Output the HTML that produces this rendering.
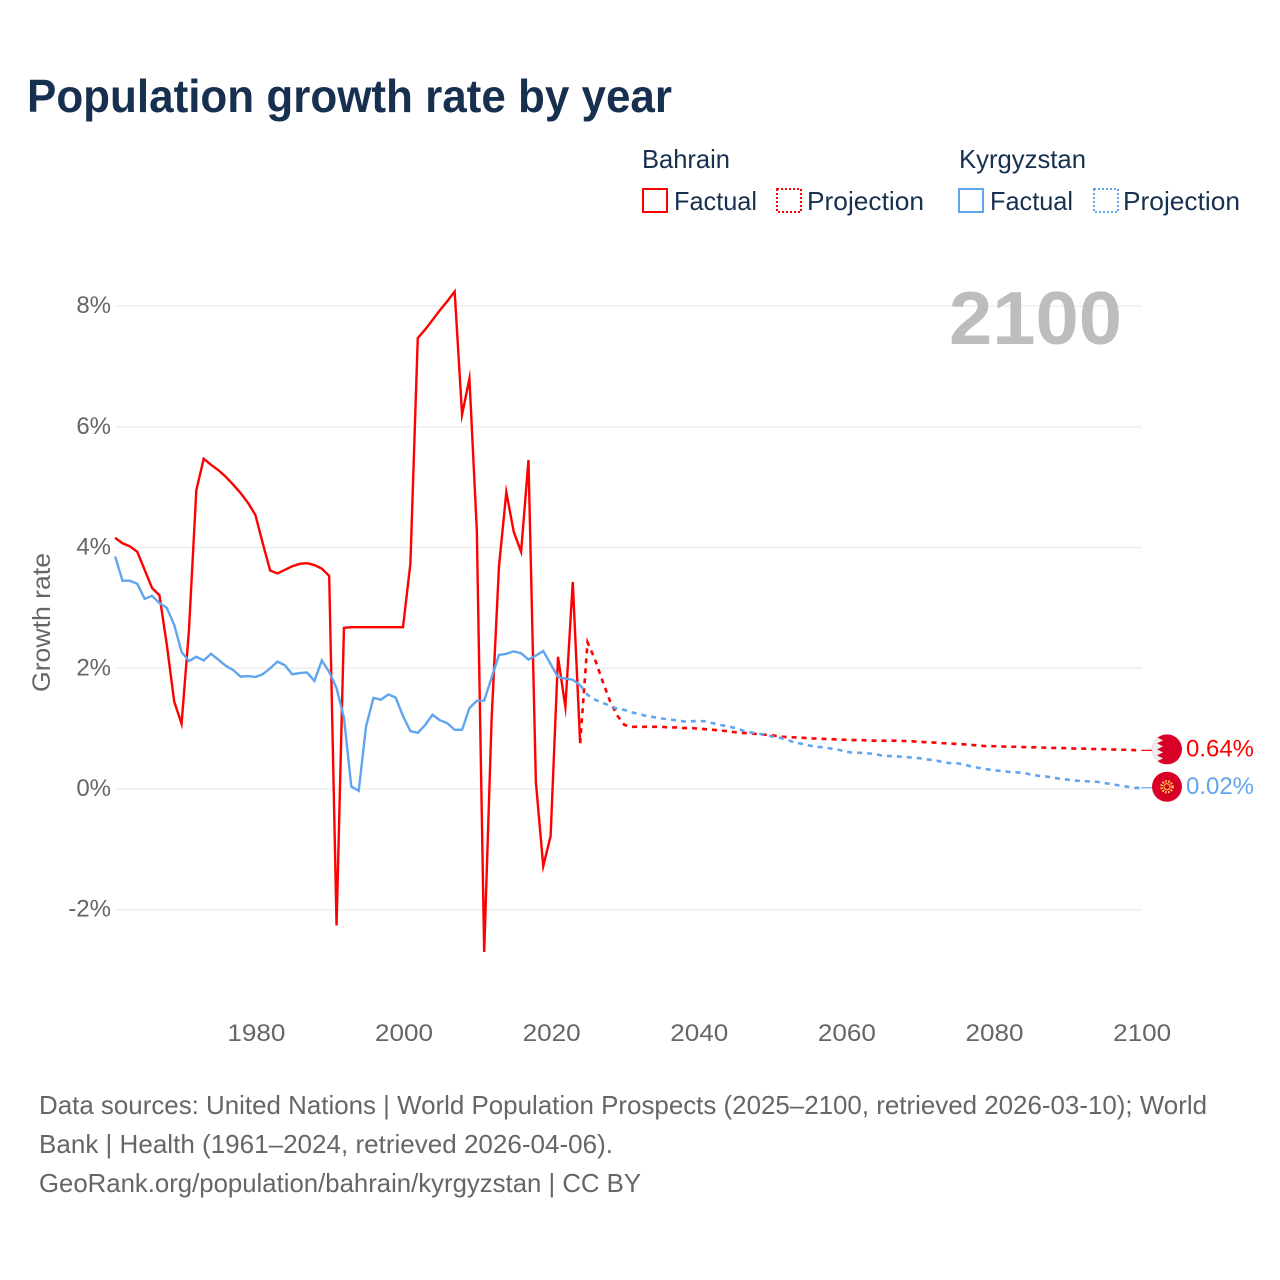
<!DOCTYPE html>
<html lang="en">
<head>
<meta charset="utf-8">
<title>Population growth rate by year</title>
<style>
html,body{margin:0;padding:0;background:#fff;}
svg{display:block;}
text{font-family:"Liberation Sans",sans-serif;}
</style>
</head>
<body>
<svg id="chart" xmlns="http://www.w3.org/2000/svg" width="1280" height="1280" viewBox="0 0 1280 1280">
  <rect width="1280" height="1280" fill="#ffffff"/>
  <text x="27" y="112" font-size="46" font-weight="700" fill="#18304f" textLength="645" lengthAdjust="spacingAndGlyphs">Population growth rate by year</text>

  <g font-size="26" fill="#18304f">
    <text x="642" y="168" textLength="88" lengthAdjust="spacingAndGlyphs">Bahrain</text>
    <text x="959" y="168" textLength="127" lengthAdjust="spacingAndGlyphs">Kyrgyzstan</text>
    <rect x="643" y="189" width="24" height="23" fill="none" stroke="#ff0000" stroke-width="2"/>
    <text x="674" y="210" textLength="83" lengthAdjust="spacingAndGlyphs">Factual</text>
    <rect x="777" y="189" width="24" height="23" fill="none" stroke="#ff0000" stroke-width="2" stroke-dasharray="2 2"/>
    <text x="807" y="210" textLength="117" lengthAdjust="spacingAndGlyphs">Projection</text>
    <rect x="959" y="189" width="24" height="23" fill="none" stroke="#60a5ee" stroke-width="2"/>
    <text x="990" y="210" textLength="83" lengthAdjust="spacingAndGlyphs">Factual</text>
    <rect x="1094" y="189" width="24" height="23" fill="none" stroke="#60a5ee" stroke-width="2" stroke-dasharray="2 2"/>
    <text x="1123" y="210" textLength="117" lengthAdjust="spacingAndGlyphs">Projection</text>
  </g>

  <g id="grid"></g>
  <g id="y-ticks"></g>
  <g id="x-ticks"></g>
  <text transform="translate(50,692) rotate(-90)" font-size="25" fill="#666666" textLength="139" lengthAdjust="spacingAndGlyphs">Growth rate</text>

  <text x="949" y="344" font-size="75" font-weight="700" fill="#bdbdbd" textLength="173" lengthAdjust="spacingAndGlyphs">2100</text>

  <g id="series"></g>

  <defs>
    <clipPath id="flag-clip"><circle cx="0" cy="0" r="15"/></clipPath>
  </defs>
  <g id="flag-bahrain">
    <g clip-path="url(#flag-clip)">
      <rect x="-15" y="-15" width="30" height="30" fill="#d80027"/>
      <polygon points="-15,-15 -4,-15 -10,-12 -4,-9 -10,-6 -4,-3 -10,0 -4,3 -10,6 -4,9 -10,12 -4,15 -15,15" fill="#eeeeee"/>
    </g>
  </g>
  <g id="flag-kyrgyzstan">
    <circle cx="0" cy="0" r="15" fill="#d80027"/>
    <circle cx="0" cy="0" r="5.500" fill="none" stroke="#ffda44" stroke-width="2.500" stroke-dasharray="1.500 1.500"/>
    <circle cx="0" cy="0" r="3" fill="none" stroke="#ffda44" stroke-width="1"/>
  </g>
  <text id="label-bahrain" x="1186" font-size="24" fill="#ff0000" textLength="68" lengthAdjust="spacingAndGlyphs"></text>
  <text id="label-kyrgyzstan" x="1186" font-size="24" fill="#60a5ee" textLength="68" lengthAdjust="spacingAndGlyphs"></text>

  <g font-size="26" fill="#666666">
    <text x="39" y="1114" textLength="1168" lengthAdjust="spacingAndGlyphs">Data sources: United Nations | World Population Prospects (2025–2100, retrieved 2026-03-10); World</text>
    <text x="39" y="1153" textLength="574" lengthAdjust="spacingAndGlyphs">Bank | Health (1961–2024, retrieved 2026-04-06).</text>
    <text x="39" y="1192" textLength="602" lengthAdjust="spacingAndGlyphs">GeoRank.org/population/bahrain/kyrgyzstan | CC BY</text>
  </g>
</svg>

<script>
const factualStartYear = 1961;
const projectionStartYear = 2024;
const yTickValues = [-2, 0, 2, 4, 6, 8];
const xTickValues = [1980, 2000, 2020, 2040, 2060, 2080, 2100];

const bahrainFactual = [
  4.16, 4.07, 4.02, 3.93, 3.63, 3.33, 3.21, 2.39, 1.45,
  1.08, 2.63, 4.95, 5.47, 5.37, 5.28, 5.17, 5.04, 4.90, 4.74,
  4.54, 4.07, 3.62, 3.57, 3.63, 3.69, 3.73, 3.74, 3.71, 3.65,
  3.53, -2.26, 2.67, 2.68, 2.68, 2.68, 2.68, 2.68, 2.68, 2.68,
  2.68, 3.73, 7.47, 7.61, 7.77, 7.93, 8.08, 8.24, 6.20, 6.80,
  4.29, -2.70, 1.14, 3.68, 4.92, 4.26, 3.93, 5.45, 0.12, -1.28,
  -0.78, 2.19, 1.36, 3.43, 0.76
];

const kyrgyzstanFactual = [
  3.85, 3.45, 3.45, 3.40, 3.15, 3.20, 3.08, 3.00, 2.72,
  2.27, 2.12, 2.19, 2.13, 2.24, 2.14, 2.04, 1.97, 1.86, 1.87,
  1.855, 1.90, 2.00, 2.11, 2.05, 1.90, 1.92, 1.93, 1.79, 2.13,
  1.94, 1.67, 1.18, 0.04, -0.03, 1.04, 1.51, 1.48, 1.565, 1.515,
  1.21, 0.96, 0.93, 1.06, 1.23, 1.14, 1.09, 0.98, 0.98, 1.34,
  1.46, 1.465, 1.84, 2.22, 2.24, 2.28, 2.25, 2.145, 2.21, 2.285,
  2.07, 1.855, 1.83, 1.81, 1.72
];

const bahrainProjection = [
  0.76, 2.43, 2.15, 1.80, 1.47, 1.22,
  1.06, 1.03, 1.03, 1.03, 1.03, 1.03, 1.02, 1.02, 1.01, 1.01,
  1.00, 0.99, 0.98, 0.97, 0.955, 0.94, 0.93, 0.92, 0.91, 0.90,
  0.89, 0.87, 0.86, 0.855, 0.85, 0.84, 0.835, 0.83, 0.825, 0.82,
  0.815, 0.81, 0.81, 0.805, 0.80, 0.80, 0.80, 0.80, 0.795, 0.79,
  0.78, 0.775, 0.77, 0.76, 0.755, 0.745, 0.74, 0.73, 0.72, 0.71,
  0.71, 0.705, 0.70, 0.70, 0.695, 0.69, 0.69, 0.685, 0.68, 0.68,
  0.675, 0.67, 0.67, 0.665, 0.66, 0.66, 0.655, 0.65, 0.65, 0.645,
  0.64
];

const kyrgyzstanProjection = [
  1.72, 1.56, 1.48, 1.43, 1.38, 1.33,
  1.31, 1.27, 1.24, 1.21, 1.19, 1.17, 1.15, 1.14, 1.12, 1.12,
  1.13, 1.12, 1.09, 1.06, 1.04, 1.01, 0.97, 0.94, 0.92, 0.90,
  0.87, 0.85, 0.82, 0.77, 0.75, 0.72, 0.70, 0.69, 0.67, 0.65,
  0.62, 0.60, 0.60, 0.59, 0.58, 0.55, 0.545, 0.54, 0.53, 0.52,
  0.51, 0.49, 0.48, 0.45, 0.43, 0.425, 0.41, 0.37, 0.35, 0.33,
  0.31, 0.30, 0.285, 0.275, 0.27, 0.24, 0.22, 0.21, 0.19, 0.17,
  0.155, 0.14, 0.13, 0.125, 0.12, 0.10, 0.08, 0.06, 0.04, 0.02,
  0.02
];

const SVG_NS = 'http://www.w3.org/2000/svg';
const RED = '#ff0000';
const BLUE = '#60a5ee';

function xScale(year) { return 403 + (year - 2000) * 7.381; }
function yScale(value) { return 789 - value * 60.37; }

function linePath(values, startYear) {
  return values.map(function (v, i) {
    return (i ? 'L' : 'M') + xScale(startYear + i).toFixed(2) + ' ' + yScale(v).toFixed(2);
  }).join(' ');
}

const gridGroup = document.getElementById('grid');
const yTickGroup = document.getElementById('y-ticks');
const xTickGroup = document.getElementById('x-ticks');
const seriesGroup = document.getElementById('series');

yTickValues.forEach(function (v) {
  const line = document.createElementNS(SVG_NS, 'line');
  
  
  line.setAttribute('x1', 115);
  line.setAttribute('x2', 1142);
  line.setAttribute('y1', yScale(v));
  line.setAttribute('y2', yScale(v));
  line.setAttribute('stroke', '#eeeeee');
  line.setAttribute('stroke-width', '1.5');
  gridGroup.appendChild(line);

  const label = document.createElementNS(SVG_NS, 'text');
  
  
  label.setAttribute('x', 111);
  label.setAttribute('y', yScale(v) + 7);
  label.setAttribute('text-anchor', 'end');
  label.setAttribute('font-size', '24');
  label.setAttribute('fill', '#666666');
  label.textContent = v + '%';
  yTickGroup.appendChild(label);
});

xTickValues.forEach(function (year) {
  const label = document.createElementNS(SVG_NS, 'text');
  
  
  label.setAttribute('x', xScale(year) - 28);
  label.setAttribute('y', 1041);
  label.setAttribute('font-size', '24');
  label.setAttribute('fill', '#666666');
  label.setAttribute('textLength', '58');
  label.setAttribute('lengthAdjust', 'spacingAndGlyphs');
  label.textContent = String(year);
  xTickGroup.appendChild(label);
});

function addSeries(name, values, startYear, color, dashed) {
  const path = document.createElementNS(SVG_NS, 'path');
  
  
  path.setAttribute('d', linePath(values, startYear));
  path.setAttribute('fill', 'none');
  path.setAttribute('stroke', color);
  path.setAttribute('stroke-width', dashed ? '2.6' : '2.4');
  path.setAttribute('stroke-linejoin', 'miter');
  path.setAttribute('stroke-miterlimit', '10');
  if (dashed) { path.setAttribute('stroke-dasharray', '5 5'); }
  seriesGroup.appendChild(path);
}

addSeries('line-bahrain-projection', bahrainProjection, projectionStartYear, RED, true);
addSeries('line-bahrain-factual', bahrainFactual, factualStartYear, RED, false);
addSeries('line-kyrgyzstan-projection', kyrgyzstanProjection, projectionStartYear, BLUE, true);
addSeries('line-kyrgyzstan-factual', kyrgyzstanFactual, factualStartYear, BLUE, false);

function addEnd(name, values, color, flagId, labelId) {
  const last = values[values.length - 1];
  const y = yScale(last);
  const leader = document.createElementNS(SVG_NS, 'line');
  
  
  leader.setAttribute('x1', xScale(2100));
  leader.setAttribute('x2', 1152);
  leader.setAttribute('y1', y);
  leader.setAttribute('y2', y);
  leader.setAttribute('stroke', color);
  leader.setAttribute('stroke-width', '1.2');
  seriesGroup.appendChild(leader);
  document.getElementById(flagId).setAttribute('transform', 'translate(1167,' + (y - 1) + ')');
  const label = document.getElementById(labelId);
  label.setAttribute('y', y + 6);
  label.textContent = last.toFixed(2) + '%';
}

addEnd('leader-bahrain', bahrainProjection, RED, 'flag-bahrain', 'label-bahrain');
addEnd('leader-kyrgyzstan', kyrgyzstanProjection, BLUE, 'flag-kyrgyzstan', 'label-kyrgyzstan');
</script>
</body>
</html>
